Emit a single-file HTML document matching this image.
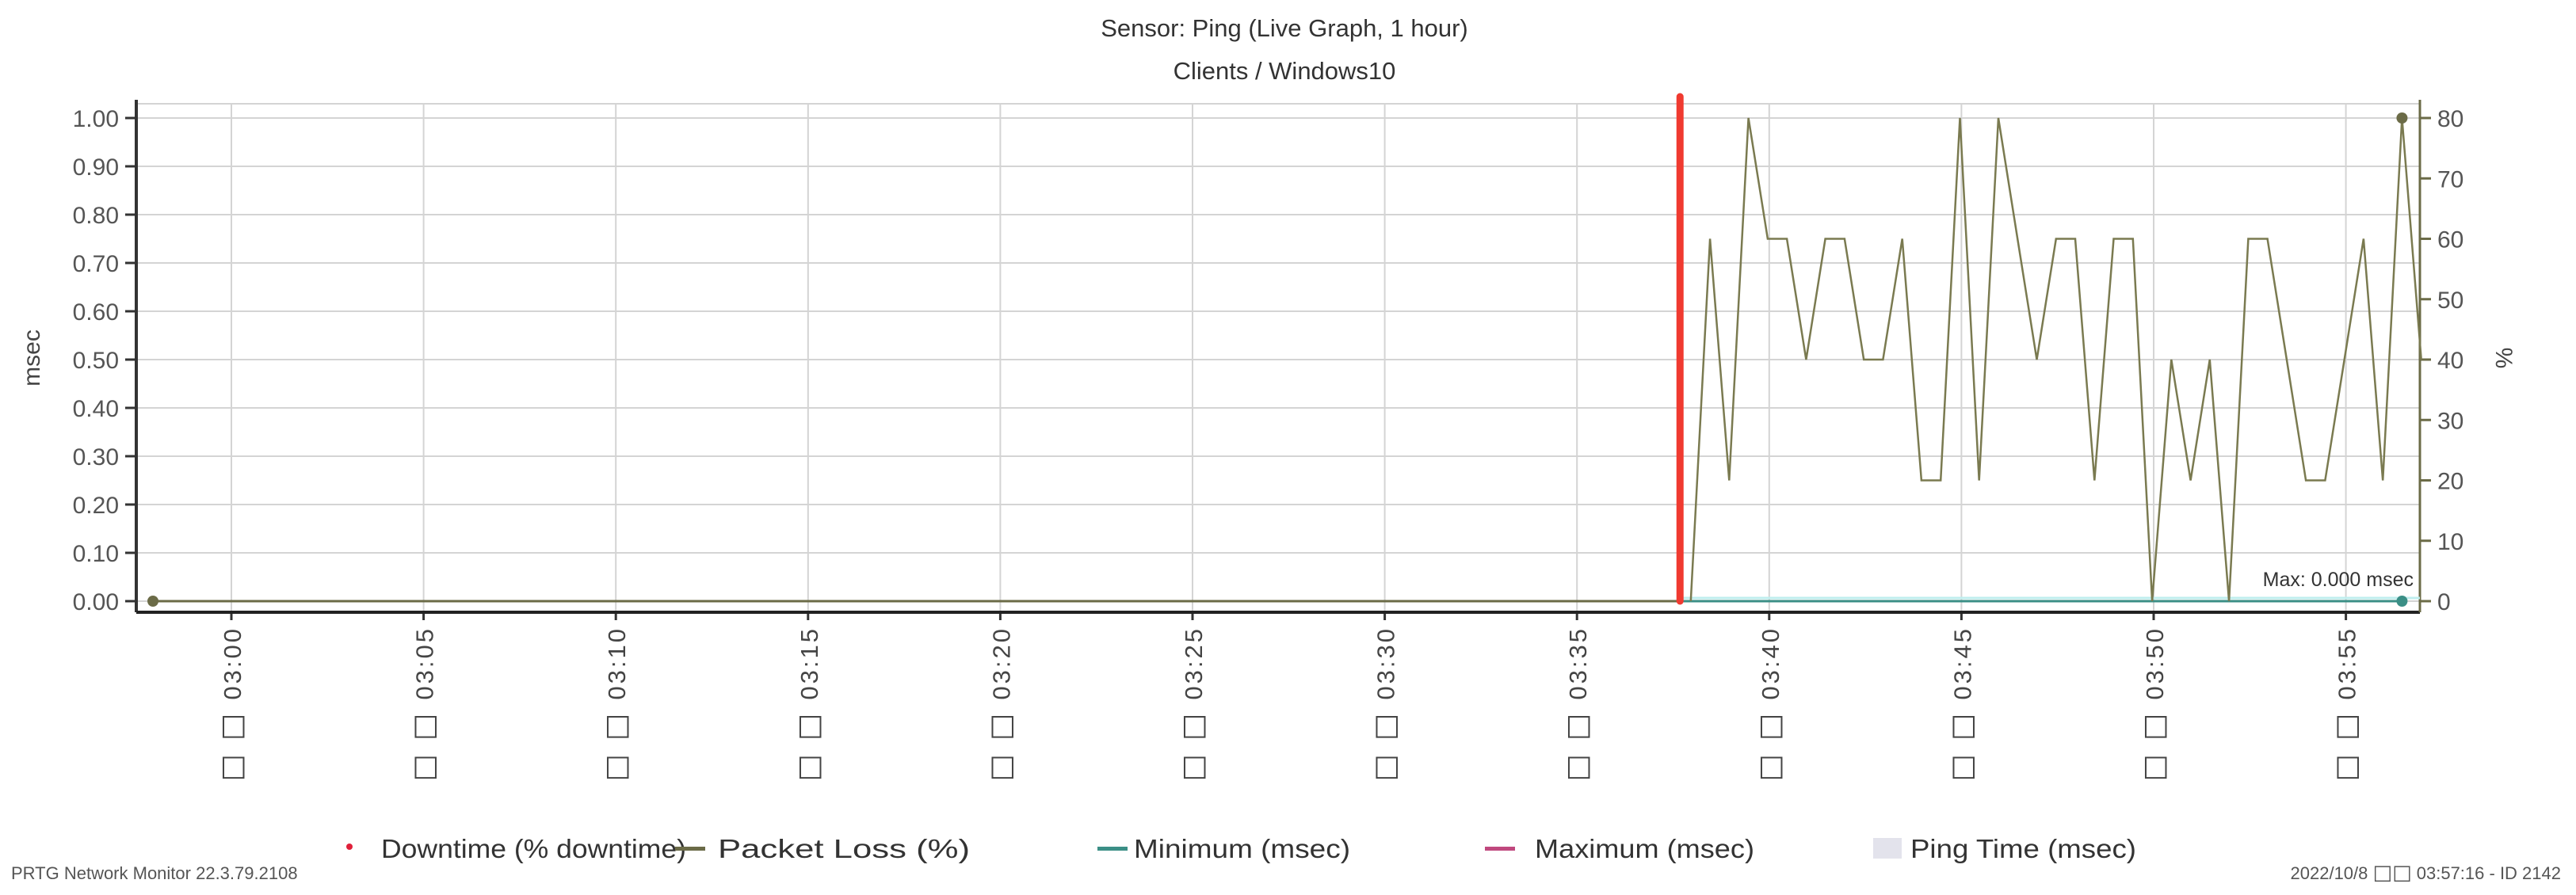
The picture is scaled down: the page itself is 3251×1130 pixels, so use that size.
<!DOCTYPE html>
<html><head><meta charset="utf-8"><style>
html,body{margin:0;padding:0;background:#fff;}
svg{display:block;font-family:"Liberation Sans","DejaVu Sans",sans-serif;}
</style></head><body>
<svg id="chart" width="3251" height="1130" viewBox="0 0 3251 1130" xmlns="http://www.w3.org/2000/svg">
<text x="1621" y="46" text-anchor="middle" font-size="31" fill="#333">Sensor: Ping (Live Graph, 1 hour)</text>
<text x="1621" y="100" text-anchor="middle" font-size="31" fill="#333">Clients / Windows10</text>
<g id="grid"></g>
<g id="axes"></g>
<g id="series"></g>
<text transform="translate(50,452) rotate(-90)" text-anchor="middle" font-size="30" fill="#444">msec</text>
<text transform="translate(3150,452) rotate(90)" text-anchor="middle" font-size="30" fill="#444">%</text>
<text x="3046" y="740" text-anchor="end" font-size="25" fill="#333">Max: 0.000 msec</text>
<g font-size="33" fill="#333">
<circle cx="441" cy="1069" r="4" fill="#e0203a"/>
<text x="481" y="1083" textLength="385" lengthAdjust="spacingAndGlyphs">Downtime (% downtime)</text>
<rect x="852" y="1069" width="38" height="5" fill="#6b6b47"/>
<text x="906" y="1083" textLength="318" lengthAdjust="spacingAndGlyphs">Packet Loss (%)</text>
<rect x="1385" y="1069" width="38" height="5" fill="#3b8f86"/>
<text x="1431" y="1083" textLength="273" lengthAdjust="spacingAndGlyphs">Minimum (msec)</text>
<rect x="1874" y="1069" width="38" height="5" fill="#c0487e"/>
<text x="1937" y="1083" textLength="277" lengthAdjust="spacingAndGlyphs">Maximum (msec)</text>
<rect x="2364" y="1058" width="36" height="26" fill="#e3e3ec"/>
<text x="2411" y="1083" textLength="285" lengthAdjust="spacingAndGlyphs">Ping Time (msec)</text>
</g>
<text x="14" y="1110" font-size="22" fill="#555">PRTG Network Monitor 22.3.79.2108</text>
<text x="3232" y="1110" text-anchor="end" font-size="22" fill="#555">2022/10/8 <tspan font-family="DejaVu Sans" font-size="26">□□</tspan> 03:57:16 - ID 2142</text>
</svg>
<script>
// data (minutes after 03:00)
const xTicks = [0,5,10,15,20,25,30,35,40,45,50,55];
const xTickLabels = ["03:00","03:05","03:10","03:15","03:20","03:25","03:30","03:35","03:40","03:45","03:50","03:55"];
const leftTicks = [0,0.1,0.2,0.3,0.4,0.5,0.6,0.7,0.8,0.9,1.0];
const leftTickLabels = ["0.00","0.10","0.20","0.30","0.40","0.50","0.60","0.70","0.80","0.90","1.00"];
const rightTicks = [0,10,20,30,40,50,60,70,80];
const downtimeMinute = 37.68;
const zeroStart = -2.04;
const lossStart = 37.96;
const lossStep = 0.5;
const lossValues = [0,60,20,80,60,60,40,60,60,40,40,60,20,20,80,20,80,60,40,60,60,20,60,60,0,40,20,40,0,60,60,40,20,20,40,60,20,80,40];
const minimumValues = [0,0];
const dotIndex = 37;

const NS="http://www.w3.org/2000/svg";
const L=172,R=3054,T=131,B=773;
const Y0=759,Y1=149;
const xs=m=>292+m*48.52;
const yl=v=>Y0+(Y1-Y0)*v;
const yr=v=>Y0+(Y1-Y0)*v/80;
function mk(tag,attrs,parent){const e=document.createElementNS(NS,tag);for(const k in attrs)e.setAttribute(k,attrs[k]);parent.appendChild(e);return e;}
const grid=document.getElementById('grid'),axes=document.getElementById('axes'),ser=document.getElementById('series');

leftTicks.forEach((v,i)=>{
  const y=yl(v);
  const g=mk('line',{x1:L,x2:R,y1:y,y2:y,stroke:'#d4d4d4','stroke-width':2},grid);
  
  
  const t=mk('line',{x1:L-14,x2:L,y1:y,y2:y,stroke:'#333','stroke-width':3},axes);
  
  
  const lb=mk('text',{x:L-22,y:y+11,'text-anchor':'end','font-size':30,fill:'#555'},axes);
  lb.textContent=leftTickLabels[i];
  
  
});
const topLine=mk('line',{x1:L,x2:R,y1:T,y2:T,stroke:'#d4d4d4','stroke-width':2},grid);


rightTicks.forEach(v=>{
  const y=yr(v);
  const t=mk('line',{x1:R,x2:R+14,y1:y,y2:y,stroke:'#6b6b47','stroke-width':3},axes);
  
  
  const lb=mk('text',{x:R+22,y:y+11,'font-size':30,fill:'#555'},axes);
  lb.textContent=String(v);
  
  
});
xTicks.forEach((m,i)=>{
  const x=xs(m);
  const g=mk('line',{x1:x,x2:x,y1:T,y2:B,stroke:'#d4d4d4','stroke-width':2},grid);
  
  
  const t=mk('line',{x1:x,x2:x,y1:B,y2:B+10,stroke:'#333','stroke-width':3},axes);
  
  
  const lb=mk('text',{transform:`translate(${x+12},${B+18}) rotate(-90)`,'text-anchor':'end','font-size':31,fill:'#444','letter-spacing':3},axes);
  const b=mk('tspan',{'font-family':'DejaVu Sans','font-size':36},lb);
  b.textContent='□ □ ';
  const tt=mk('tspan',{},lb);
  tt.textContent=xTickLabels[i];
  
  
});
const la=mk('line',{x1:L,x2:L,y1:T-5,y2:B,stroke:'#333','stroke-width':4},axes);


const ba=mk('line',{x1:L,x2:R,y1:B,y2:B,stroke:'#222','stroke-width':4},axes);


const ra=mk('line',{x1:R,x2:R,y1:T-5,y2:B,stroke:'#6b6b47','stroke-width':3},axes);



const z=mk('line',{x1:xs(zeroStart),x2:xs(lossStart),y1:yr(0),y2:yr(0),stroke:'#6b6b47','stroke-width':3},ser);


const mn2=mk('line',{x1:xs(downtimeMinute),x2:R,y1:yl(0)-4,y2:yl(0)-4,stroke:'#bfeeee','stroke-width':3},ser);


const mn=mk('line',{x1:xs(downtimeMinute),x2:xs(lossStart+lossStep*dotIndex),y1:yl(minimumValues[0]),y2:yl(minimumValues[1]),stroke:'#3b8f86','stroke-width':3},ser);


const pts=lossValues.map((v,i)=>`${xs(lossStart+i*lossStep).toFixed(1)},${yr(v).toFixed(1)}`).join(' ');
const pl=mk('polyline',{points:pts,fill:'none',stroke:'#7a7a50','stroke-width':2.5},ser);


const dt=mk('line',{x1:xs(downtimeMinute),x2:xs(downtimeMinute),y1:122,y2:yr(0),stroke:'#f03a30','stroke-width':9,'stroke-linecap':'round'},ser);


const d1=mk('circle',{cx:xs(zeroStart),cy:yr(0),r:7,fill:'#6b6b47'},ser);


const d2=mk('circle',{cx:xs(lossStart+dotIndex*lossStep),cy:yr(lossValues[dotIndex]),r:7,fill:'#6b6b47'},ser);


const d3=mk('circle',{cx:xs(lossStart+dotIndex*lossStep),cy:yl(0),r:7,fill:'#3b8f86'},ser);


</script>
</body></html>
